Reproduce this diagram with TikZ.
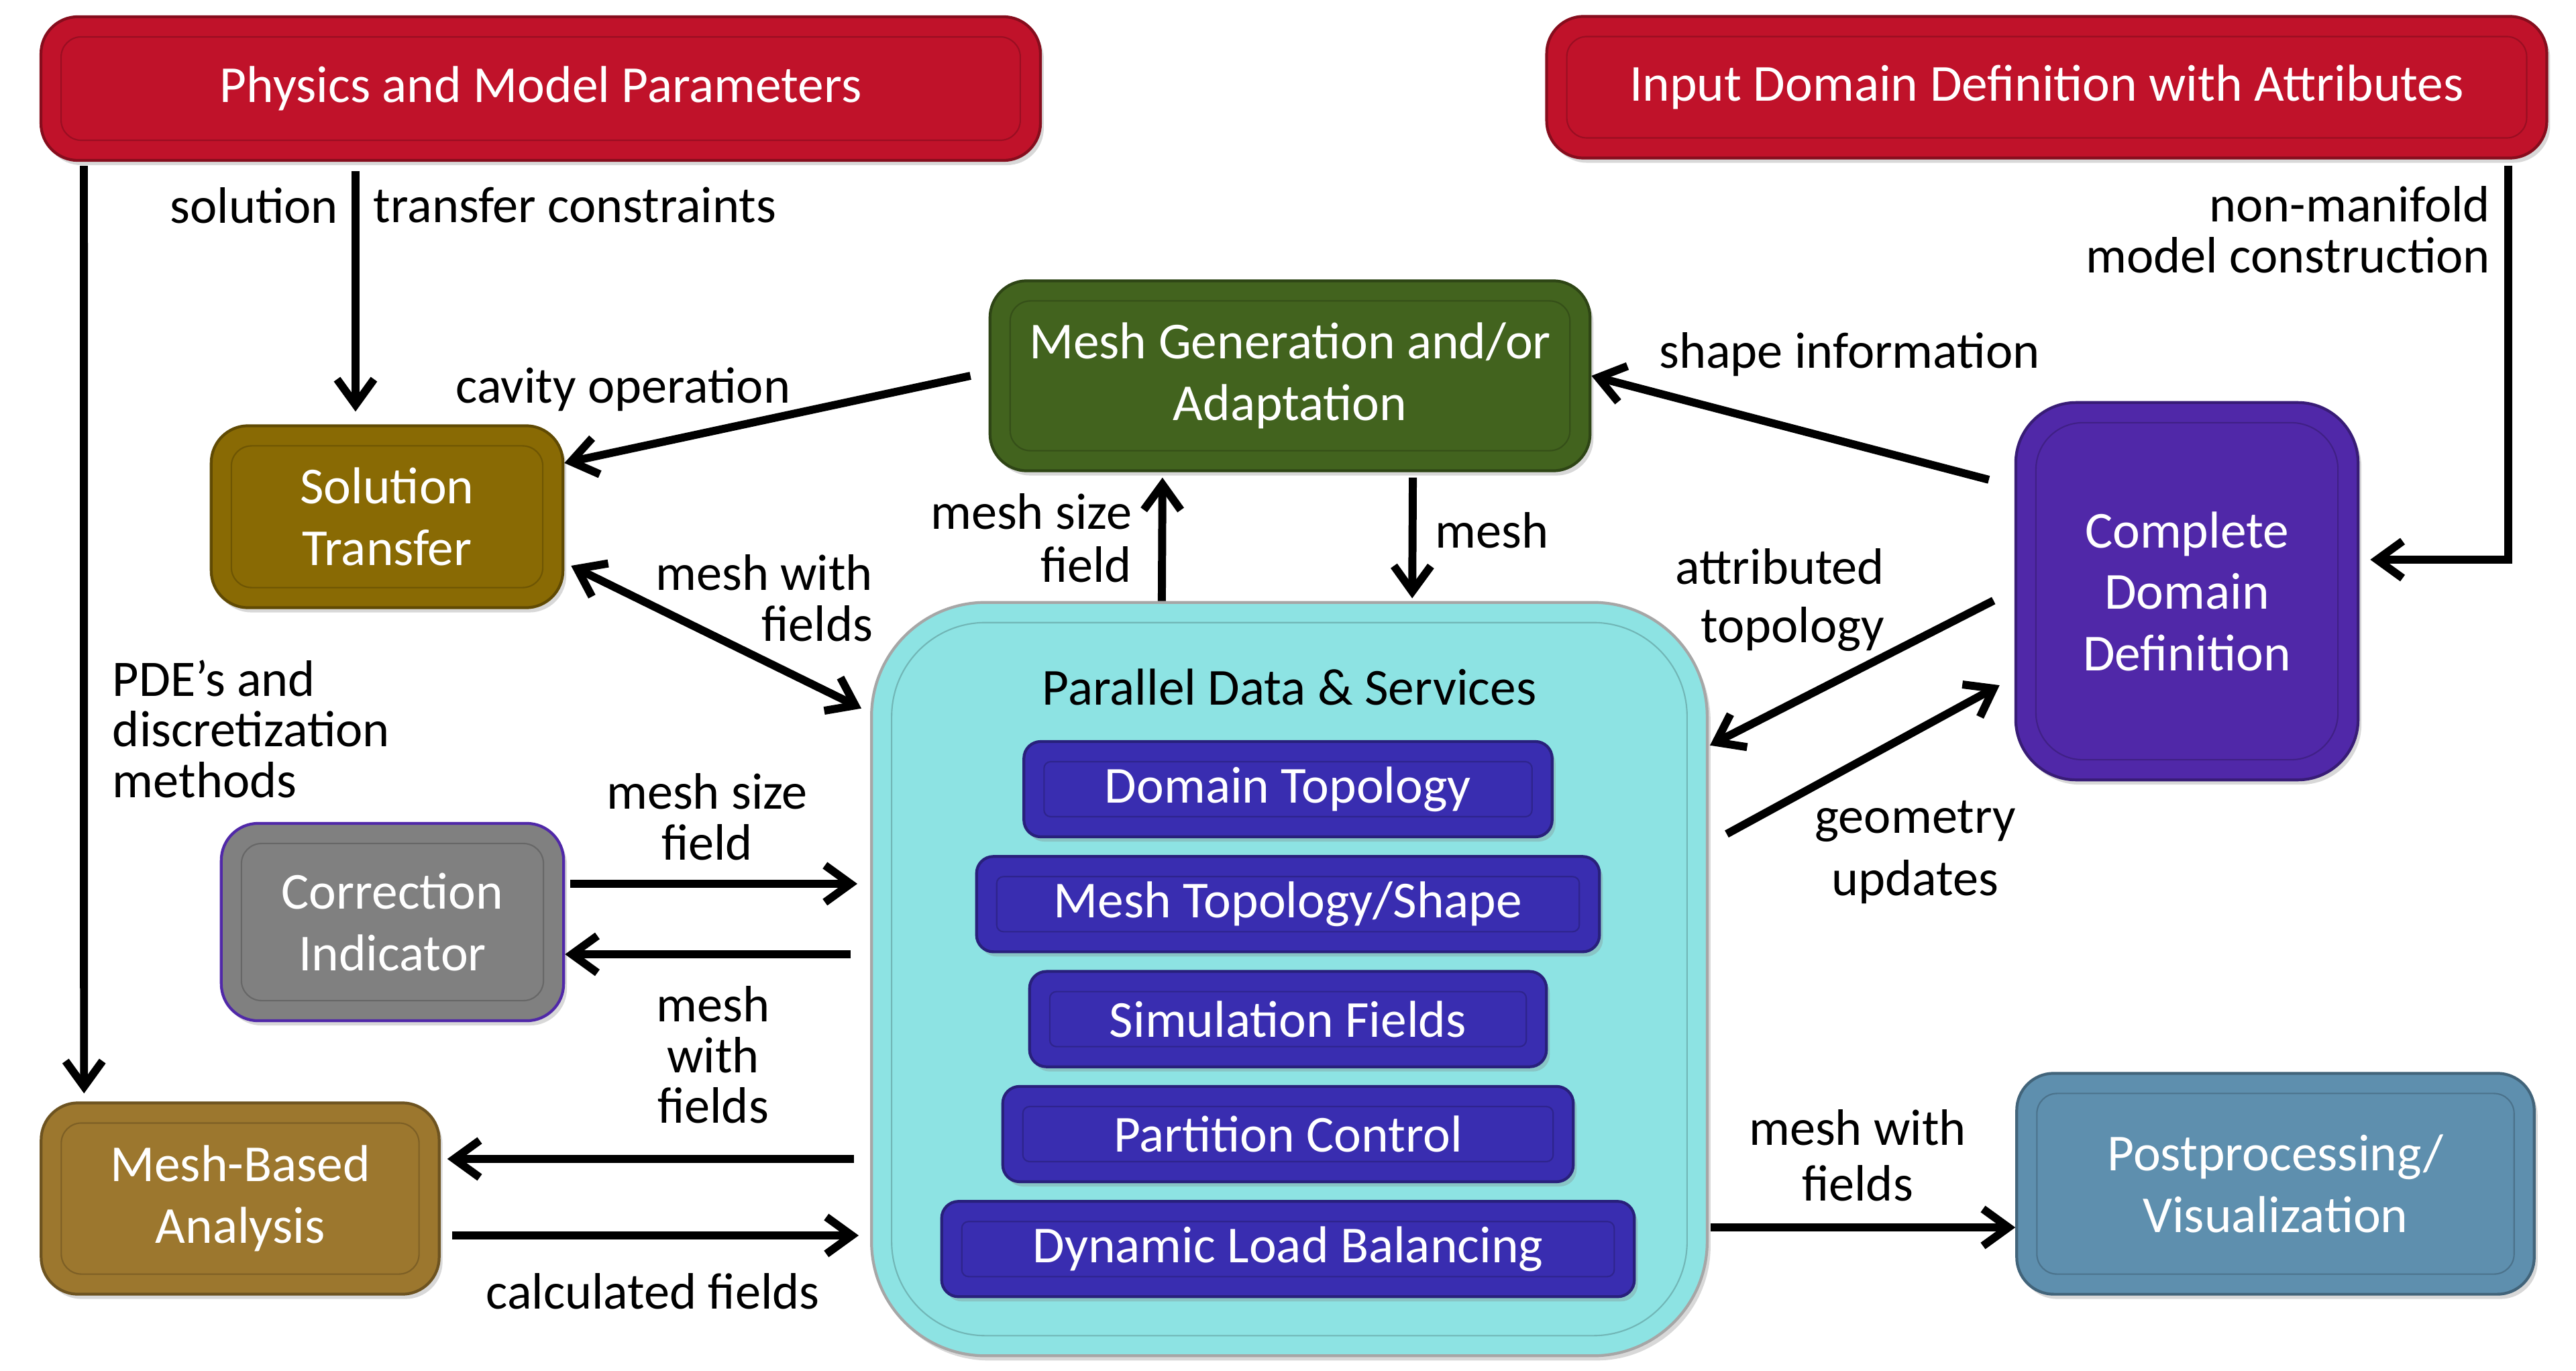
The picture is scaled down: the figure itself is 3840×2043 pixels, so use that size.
\documentclass[tikz,border=0pt]{standalone}
\usepackage{fontspec}
\setmainfont{Carlito}
\usetikzlibrary{arrows.meta,positioning,shadows}

\definecolor{physred}{RGB}{192,18,42}
\definecolor{gengreen}{RGB}{66,99,30}
\definecolor{transgold}{RGB}{137,106,4}
\definecolor{domviolet}{RGB}{80,40,168}
\definecolor{pdscyan}{RGB}{141,227,227}
\definecolor{layerblue}{RGB}{57,45,176}
\definecolor{indgray}{RGB}{128,128,128}
\definecolor{anabrown}{RGB}{156,119,46}
\definecolor{postblue}{RGB}{94,143,174}

\newcommand{\boxfont}{\fontsize{22}{26}\selectfont}
\newcommand{\lblfont}{\fontsize{21.7}{21.5}\selectfont}

\begin{document}
\begin{tikzpicture}[x=0.01cm,y=-0.01cm,>={Straight Barb[length=0.38cm,width=0.55cm]},line width=3.4pt,
    inset radius/.initial=0.3cm,
    block/.style={rounded corners=0.55cm,fill=#1,draw=#1!70!black,line width=1.2pt,text=white,align=center,font=\boxfont,
        drop shadow={opacity=0.3,shadow xshift=0.05cm,shadow yshift=-0.07cm},
        path picture={\draw[#1!80!black,line width=0.6pt,rounded corners=\pgfkeysvalueof{/tikz/inset radius}] ([shift={(0.3cm,-0.3cm)}]path picture bounding box.north west) rectangle ([shift={(-0.3cm,0.3cm)}]path picture bounding box.south east);}},
    layer/.style={block=layerblue,rounded corners=0.25cm,inset radius=0.1cm,minimum height=1.42cm},
    lbl/.style={font=\lblfont,inner sep=0pt}]

    \fill[white] (0,0) rectangle (3840,2043);
    \useasboundingbox (0,0) rectangle (3840,2043);

    \node[block=physred,minimum width=14.89cm,minimum height=2.14cm] (phys) at (806,132) {Physics and Model Parameters};
    \node[block=physred,minimum width=14.9cm,minimum height=2.11cm] (input) at (3051,130) {Input Domain Definition with Attributes};
    \node[block=gengreen,minimum width=8.94cm,minimum height=2.83cm] (gen) at (1923,560) {Mesh Generation and/or\\Adaptation};
    \node[block=transgold,minimum width=5.24cm,minimum height=2.71cm] (trans) at (577,770) {Solution\\Transfer};
    \node[block=domviolet,minimum width=5.1cm,minimum height=5.62cm,rounded corners=0.9cm,inset radius=0.7cm] (cdd) at (3260,881) {Complete\\Domain\\Definition};
    \node[block=pdscyan,draw=gray!70,minimum width=12.45cm,minimum height=11.22cm,rounded corners=1.7cm,inset radius=1.4cm] (pds) at (1922,1459) {};
    \node[font=\boxfont] (ptitle) at (1922,1024) {Parallel Data \& Services};
    \node[layer,minimum width=7.87cm] (dt) at (1920,1176) {Domain Topology};
    \node[layer,minimum width=9.28cm,below=0.25cm of dt] (mts) {Mesh Topology/Shape};
    \node[layer,minimum width=7.7cm,below=0.25cm of mts] (sf) {Simulation Fields};
    \node[layer,minimum width=8.5cm,below=0.25cm of sf] (pc) {Partition Control};
    \node[layer,minimum width=10.32cm,below=0.25cm of pc] (dlb) {Dynamic Load Balancing};
    \node[block=indgray,draw=domviolet,minimum width=5.1cm,minimum height=2.94cm] (ind) at (585,1374) {Correction\\Indicator};
    \node[block=anabrown,minimum width=5.93cm,minimum height=2.85cm] (ana) at (358,1786) {Mesh-Based\\Analysis};
    \node[block=postblue,minimum width=7.71cm,minimum height=3.29cm] (post) at (3392,1764) {Postprocessing/\\Visualization};

    % top inputs
    \draw[->,shorten <=0.06cm,shorten >=0.12cm] ([xshift=0.66cm]phys.south west) -- ([xshift=0.66cm]ana.north west);
    \draw[->,shorten <=0.14cm,shorten >=0.19cm] ([xshift=-0.47cm]trans.north |- phys.south) -- ([xshift=-0.47cm]trans.north);
    \draw[->,shorten <=0.09cm] ([xshift=-0.6cm]input.south east) |- ([xshift=0.16cm,yshift=0.47cm]cdd.east);

    % mesh generation
    \draw[->] ([xshift=-0.27cm]gen.west) -- ([yshift=0.8cm]trans.east);
    \draw[->] ([xshift=-0.38cm,yshift=1.66cm]cdd.west) -- (gen.east);
    \draw[->,shorten >=0.08cm] ([xshift=-1.9cm]pds.north) -- ([xshift=-1.9cm]gen.south);
    \draw[->,shorten <=0.08cm,shorten >=0.04cm] ([xshift=1.83cm]gen.south) -- ([xshift=1.83cm]pds.north);

    % domain definition
    \draw[->] ([xshift=-0.31cm,yshift=-0.14cm]cdd.west) -- ([xshift=0.02cm,yshift=-2.15cm]pds.north east);
    \draw[->] ([xshift=0.27cm,yshift=-3.47cm]pds.north east) -- ([xshift=-0.22cm,yshift=-1.4cm]cdd.west);

    % left side
    \draw[<->] ([xshift=0.1cm,yshift=-0.73cm]trans.east) -- ([xshift=-0.13cm,yshift=-1.6cm]pds.north west);
    \draw[->,shorten <=0.08cm,shorten >=0.19cm] ([yshift=0.57cm]ind.east) -- ([yshift=0.57cm]ind.east -| pds.west);
    \draw[->,shorten <=0.29cm] ([yshift=-0.48cm]ind.east -| pds.west) -- ([yshift=-0.48cm]ind.east);
    \draw[->,shorten <=0.24cm,shorten >=0.1cm] ([yshift=0.59cm]ana.east -| pds.west) -- ([yshift=0.59cm]ana.east);
    \draw[->,shorten <=0.17cm,shorten >=0.17cm] ([yshift=-0.55cm]ana.east) -- ([yshift=-0.55cm]ana.east -| pds.west);

    % output
    \draw[->,shorten <=0.03cm] ([yshift=-0.65cm]post.west -| pds.east) -- ([yshift=-0.65cm]post.west);

    \node[lbl,anchor=east] (lsola) at (510,306) {solution};
    \node[lbl,anchor=west] (lsolb) at (551,306) {transfer constraints};
    \node[lbl] (lcav) at (929,580) {cavity operation};
    \node[lbl] (lshape) at (2757,528) {shape information};
    \node[lbl,anchor=east,align=right] (lnonman) at (3718,342) {non-manifold\\model construction};
    \node[lbl,anchor=east,align=right] (lsizeup) at (1693,802) {mesh size\\[1pt]field};
    \node[lbl] (lmesh) at (2224,790) {mesh};
    \node[lbl,anchor=east,align=right] (lattr) at (2815,894) {attributed\\[3pt]topology};
    \node[lbl,align=center] (lgeom) at (2855,1270) {geometry\\[5pt]updates};
    \node[lbl,anchor=east,align=right] (lfieldsa) at (1307,891) {mesh with\\fields};
    \node[lbl,anchor=west,align=left] (lpde) at (162,1086) {PDE’s and\\discretization\\methods};
    \node[lbl,align=center] (lsizeind) at (1054,1217) {mesh size\\field};
    \node[lbl,align=center] (lfieldsb) at (1063,1572) {mesh\\with\\fields};
    \node[lbl] (lcalc) at (973,1924) {calculated fields};
    \node[lbl,align=center] (lfieldsc) at (2769,1722) {mesh with\\[2pt]fields};

\end{tikzpicture}
\end{document}
